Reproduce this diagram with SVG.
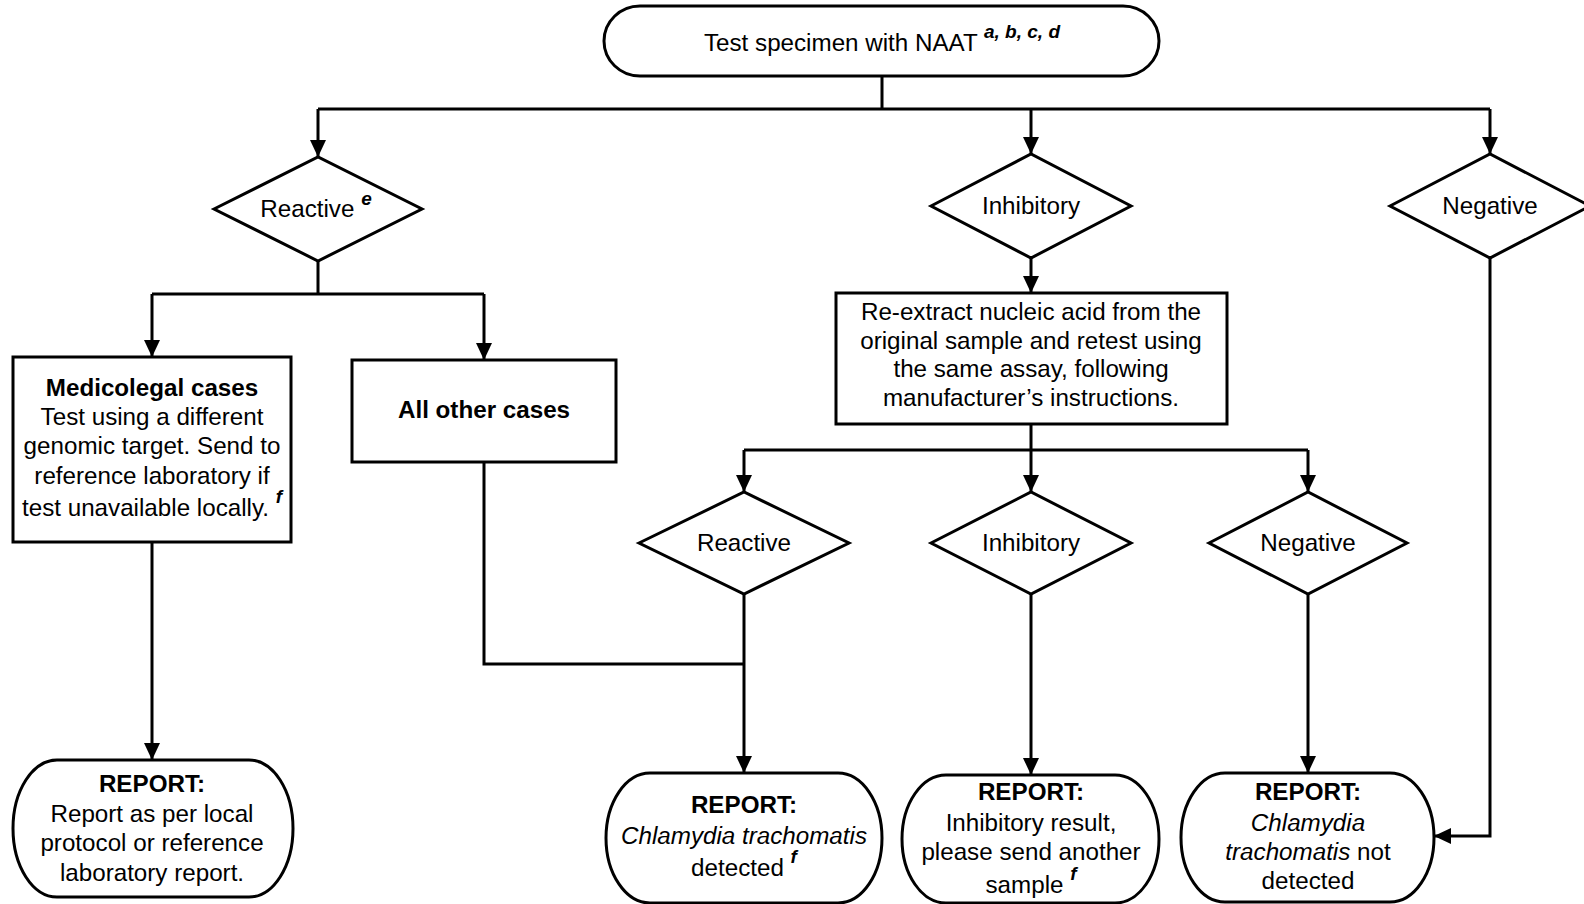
<svg xmlns="http://www.w3.org/2000/svg" width="1584" height="904" viewBox="0 0 1584 904">
<defs>
<style>
.box{fill:#fff;stroke:#000;stroke-width:3}
.t{font-family:"Liberation Sans",Arial,sans-serif;font-size:24.2px;fill:#000;text-anchor:middle}
.b{font-weight:bold}
.i{font-style:italic}
.sup{font-size:19px;font-weight:bold;font-style:italic}
.c{fill:none;stroke:#000;stroke-width:3}
</style>
<marker id="ah" markerUnits="userSpaceOnUse" markerWidth="18" markerHeight="16" refX="17" refY="8" orient="auto">
<path d="M0,0 L17,8 L0,16 z" fill="#000"/>
</marker>
</defs>
<rect width="1584" height="904" fill="#fff"/>

<g id="n-start">
<rect class="box" x="604" y="6" width="555" height="70" rx="36" ry="35"/>
<text class="t" x="882" y="51">Test specimen with NAAT <tspan class="sup" dy="-13">a, b, c, d</tspan></text>
</g>

<g id="n-reactive1">
<polygon class="box" points="214,209 318,157 422,209 318,261"/>
<text class="t" x="316" y="217">Reactive <tspan class="sup" dy="-12">e</tspan></text>
</g>

<g id="n-inhib1">
<polygon class="box" points="931,206 1031,154 1131,206 1031,258"/>
<text class="t" x="1031" y="214">Inhibitory</text>
</g>

<g id="n-neg1">
<polygon class="box" points="1390,206 1490,154 1590,206 1490,258"/>
<text class="t" x="1490" y="214">Negative</text>
</g>

<g id="n-medico">
<rect class="box" x="13" y="357" width="278" height="185"/>
<text class="t" x="152" y="396"><tspan class="b">Medicolegal cases</tspan></text>
<text class="t" x="152" y="425">Test using a different</text>
<text class="t" x="152" y="454">genomic target. Send to</text>
<text class="t" x="152" y="484">reference laboratory if</text>
<text class="t" x="152" y="516">test unavailable locally. <tspan class="sup" dy="-13">f</tspan></text>
</g>

<g id="n-other">
<rect class="box" x="352" y="360" width="264" height="102"/>
<text class="t b" x="484" y="418">All other cases</text>
</g>

<g id="n-reextract">
<rect class="box" x="836" y="293" width="391" height="131"/>
<text class="t" x="1031" y="320">Re-extract nucleic acid from the</text>
<text class="t" x="1031" y="349">original sample and retest using</text>
<text class="t" x="1031" y="377">the same assay, following</text>
<text class="t" x="1031" y="406">manufacturer’s instructions.</text>
</g>

<g id="n-reactive2">
<polygon class="box" points="639,543 744,492 849,543 744,594"/>
<text class="t" x="744" y="551">Reactive</text>
</g>

<g id="n-inhib2">
<polygon class="box" points="931,543 1031,492 1131,543 1031,594"/>
<text class="t" x="1031" y="551">Inhibitory</text>
</g>

<g id="n-neg2">
<polygon class="box" points="1209,543 1308,492 1407,543 1308,594"/>
<text class="t" x="1308" y="551">Negative</text>
</g>

<g id="n-rep-local">
<rect class="box" x="13" y="760" width="280" height="137" rx="44" ry="68.5"/>
<text class="t b" x="152" y="792">REPORT:</text>
<text class="t" x="152" y="822">Report as per local</text>
<text class="t" x="152" y="851">protocol or reference</text>
<text class="t" x="152" y="881">laboratory report.</text>
</g>

<g id="n-rep-detected">
<rect class="box" x="606" y="773" width="276" height="130" rx="44" ry="65"/>
<text class="t b" x="744" y="813">REPORT:</text>
<text class="t i" x="744" y="844">Chlamydia trachomatis</text>
<text class="t" x="744" y="876">detected <tspan class="sup" dy="-13">f</tspan></text>
</g>

<g id="n-rep-inhib">
<rect class="box" x="902" y="775" width="257" height="128" rx="44" ry="64"/>
<text class="t b" x="1031" y="800">REPORT:</text>
<text class="t" x="1031" y="831">Inhibitory result,</text>
<text class="t" x="1031" y="860">please send another</text>
<text class="t" x="1031" y="893">sample <tspan class="sup" dy="-13">f</tspan></text>
</g>

<g id="n-rep-neg">
<rect class="box" x="1181" y="773" width="253" height="129" rx="44" ry="64.5"/>
<text class="t b" x="1308" y="800">REPORT:</text>
<text class="t i" x="1308" y="831">Chlamydia</text>
<text class="t" x="1308" y="860"><tspan class="i">trachomatis</tspan> not</text>
<text class="t" x="1308" y="889">detected</text>
</g>

<g id="connectors">
<path class="c" d="M882,76 V109 M318,109 H1490"/>
<path class="c" d="M318,109 V157" marker-end="url(#ah)"/>
<path class="c" d="M1031,109 V154" marker-end="url(#ah)"/>
<path class="c" d="M1490,109 V154" marker-end="url(#ah)"/>
<path class="c" d="M318,261 V294 M152,294 H484"/>
<path class="c" d="M152,294 V357" marker-end="url(#ah)"/>
<path class="c" d="M484,294 V360" marker-end="url(#ah)"/>
<path class="c" d="M1031,258 V293" marker-end="url(#ah)"/>
<path class="c" d="M1031,424 V450 M744,450 H1308"/>
<path class="c" d="M744,450 V492" marker-end="url(#ah)"/>
<path class="c" d="M1031,450 V492" marker-end="url(#ah)"/>
<path class="c" d="M1308,450 V492" marker-end="url(#ah)"/>
<path class="c" d="M152,542 V760" marker-end="url(#ah)"/>
<path class="c" d="M484,462 V664 H744"/>
<path class="c" d="M744,594 V773" marker-end="url(#ah)"/>
<path class="c" d="M1031,594 V775" marker-end="url(#ah)"/>
<path class="c" d="M1308,594 V773" marker-end="url(#ah)"/>
<path class="c" d="M1490,258 V836 H1434" marker-end="url(#ah)"/>
</g>
</svg>
